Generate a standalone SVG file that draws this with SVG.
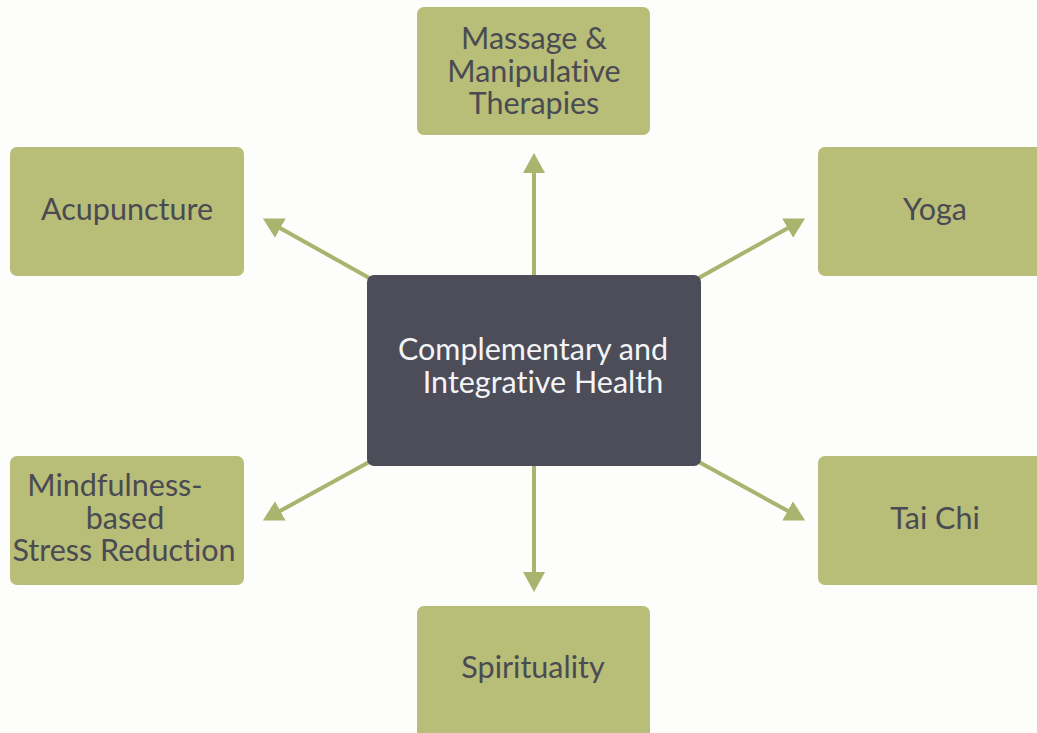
<svg xmlns="http://www.w3.org/2000/svg" width="1037" height="733" viewBox="0 0 1037 733">
  <defs>
    <style>
      .leaf { fill: #b8bd78; }
      .hub { fill: #4c4d58; }
      .leaf-text, .hub-text { font-family: Lato, "Open Sans", "Liberation Sans", sans-serif; font-size: 30.5px; text-anchor: middle; font-variant-ligatures: none; }
      .leaf-text { fill: #4a4b52; }
      .hub-text { fill: #f4f4f6; }
      .link { stroke: #a9b46f; stroke-width: 4; fill: none; marker-end: url(#head); }
    </style>
    <marker id="head" markerUnits="userSpaceOnUse" markerWidth="22" markerHeight="24" viewBox="0 -12 22 24" refX="1" refY="0" orient="auto">
      <path d="M0,-11 L20,0 L0,11 z" fill="#a9b46f"/>
    </marker>
  </defs>

  <rect width="1037" height="733" fill="#fdfdfb"/>

  <!-- connectors from the hub out to each practice -->
  <g id="connectors">
    <line class="link" x1="534" y1="285" x2="534" y2="172"/>
    <line class="link" x1="534" y1="455" x2="534" y2="573"/>
    <line class="link" x1="380" y1="284" x2="279.5" y2="227.7"/>
    <line class="link" x1="688" y1="284" x2="788.5" y2="227.7"/>
    <line class="link" x1="380" y1="456" x2="279.5" y2="511.3"/>
    <line class="link" x1="688" y1="456" x2="788.5" y2="511.3"/>
  </g>

  <g id="hub">
    <rect class="hub" x="367" y="275" width="334" height="191" rx="7"/>
    <text class="hub-text" x="533" y="360">Complementary and</text>
    <text class="hub-text" x="543" y="393">Integrative Health</text>
  </g>

  <g id="massage">
    <rect class="leaf" x="417" y="7" width="233" height="128" rx="7"/>
    <text class="leaf-text" x="534" y="49">Massage &amp;</text>
    <text class="leaf-text" x="534" y="82">Manipulative</text>
    <text class="leaf-text" x="534" y="114">Therapies</text>
  </g>

  <g id="acupuncture">
    <rect class="leaf" x="10" y="147" width="234" height="129" rx="7"/>
    <text class="leaf-text" x="127" y="220">Acupuncture</text>
  </g>

  <g id="yoga">
    <rect class="leaf" x="818" y="147" width="240" height="129" rx="7"/>
    <text class="leaf-text" x="935" y="220">Yoga</text>
  </g>

  <g id="mindfulness">
    <rect class="leaf" x="10" y="456" width="234" height="129" rx="7"/>
    <text class="leaf-text" x="115" y="496">Mindfulness-</text>
    <text class="leaf-text" x="125" y="529">based</text>
    <text class="leaf-text" x="124" y="561">Stress Reduction</text>
  </g>

  <g id="taichi">
    <rect class="leaf" x="818" y="456" width="240" height="129" rx="7"/>
    <text class="leaf-text" x="935" y="529">Tai Chi</text>
  </g>

  <g id="spirituality">
    <rect class="leaf" x="417" y="606" width="233" height="140" rx="7"/>
    <text class="leaf-text" x="533" y="678">Spirituality</text>
  </g>
</svg>
